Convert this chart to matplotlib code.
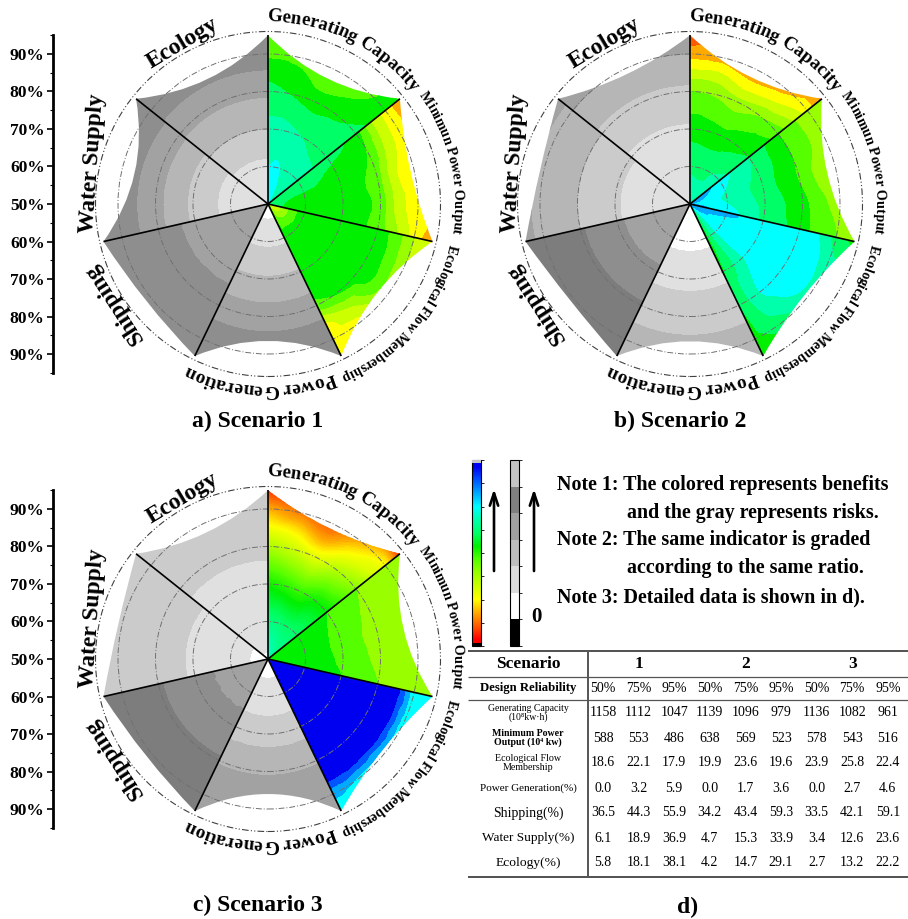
import numpy as np
import matplotlib
matplotlib.use('Agg')
import matplotlib.pyplot as plt
from matplotlib.path import Path
from matplotlib.patches import PathPatch, Rectangle, Circle
from matplotlib.tri import Triangulation, UniformTriRefiner, CubicTriInterpolator
from matplotlib.colors import LinearSegmentedColormap, ListedColormap, BoundaryNorm, Normalize
from matplotlib.font_manager import FontProperties, findfont, get_font
import matplotlib.colorbar as mcolorbar

plt.rcParams['font.family'] = ['Liberation Serif', 'DejaVu Serif']

# ------------------------------------------------------------------ data
indicators = ['Generating Capacity', 'Minimun Power Output', 'Ecological Flow Membership',
              'Power Generation', 'Shipping', 'Water Supply', 'Ecology']

# radial grid (design reliability, %) and angular position inside each sector (0..1)
rel_rows = [50.3, 60, 70, 80, 85, 90, 96]
u_cols = [0.0, 0.25, 0.5, 0.75, 1.0]
vertex_rel = 95
outer_ring_rel = 96
ring_rels = [60, 70, 80, 90]

# benefit class (0 = red ... 13 = blue), rows = rel_rows, cols = u_cols
s1_gen_cap = [[10.0, 10.0, 9.6, 9.2, 9.0],
              [9.5, 9.6, 9.2, 8.8, 8.7],
              [8.8, 8.8, 8.5, 8.3, 8.3],
              [7.8, 7.4, 7.0, 7.3, 7.8],
              [7.2, 6.8, 6.2, 6.6, 7.4],
              [6.3, 6.2, 5.8, 6.0, 7.0],
              [5.8, 6.0, 6.0, 6.0, 6.3]]
s1_min_power = [[8.5, 8.3, 8.0, 7.8, 7.5],
                [8.2, 7.8, 7.2, 7.1, 7.1],
                [7.8, 7.2, 7.0, 7.0, 7.0],
                [6.8, 6.3, 5.8, 6.0, 6.0],
                [4.5, 4.2, 3.6, 3.9, 4.6],
                [3.0, 3.0, 3.0, 3.0, 3.0],
                [1.5, 2.8, 2.8, 2.5, 1.2]]
s1_eco_flow = [[3.0, 3.0, 3.0, 4.0, 6.0],
               [7.0, 7.0, 7.0, 7.0, 7.0],
               [7.0, 7.0, 7.0, 7.0, 7.0],
               [7.0, 7.0, 7.0, 6.6, 6.0],
               [6.0, 6.2, 6.2, 4.5, 3.4],
               [4.5, 4.5, 4.5, 3.2, 3.0],
               [3.0, 3.0, 3.0, 3.0, 3.0]]

s2_gen_cap = [[9.0, 9.0, 9.0, 9.0, 9.5],
              [8.3, 8.2, 8.2, 8.5, 8.8],
              [7.0, 6.9, 6.8, 7.1, 7.5],
              [5.5, 5.3, 4.8, 5.4, 6.0],
              [3.8, 3.8, 3.0, 3.5, 4.5],
              [2.0, 2.0, 1.5, 2.0, 3.0],
              [0.8, 1.5, 1.5, 1.5, 0.8]]
s2_min_power = [[11.8, 11.2, 10.6, 10.5, 11.0],
                [10.0, 9.6, 9.3, 9.5, 10.0],
                [8.5, 8.2, 8.0, 8.2, 8.3],
                [6.5, 6.5, 6.4, 6.8, 7.0],
                [5.6, 5.6, 5.2, 5.8, 6.0],
                [5.0, 5.0, 4.6, 5.0, 5.5],
                [4.6, 4.6, 4.5, 4.6, 4.5]]
s2_eco_flow = [[11.5, 11.0, 10.5, 9.0, 7.0],
               [10.8, 10.2, 10.0, 9.0, 7.0],
               [10.0, 10.0, 10.0, 8.8, 7.3],
               [10.0, 10.0, 10.0, 9.5, 7.5],
               [9.5, 9.8, 9.8, 9.0, 7.3],
               [8.0, 9.0, 9.0, 8.0, 7.2],
               [7.0, 7.0, 7.0, 7.0, 7.0]]

s3_gen_cap = [[9.5, 9.3, 9.0, 8.8, 8.5],
              [8.3, 8.2, 8.0, 8.0, 8.0],
              [6.8, 6.5, 6.3, 6.8, 7.0],
              [4.6, 4.0, 3.5, 4.5, 5.2],
              [3.2, 2.7, 2.0, 3.2, 4.0],
              [2.0, 1.4, 1.0, 2.0, 3.0],
              [0.3, 0.5, 0.5, 0.5, 0.0]]
s3_min_power = [[7.2, 7.2, 7.2, 7.2, 7.2],
                [7.0, 7.0, 7.0, 7.0, 7.0],
                [6.5, 6.3, 6.2, 6.3, 6.5],
                [5.5, 5.2, 5.0, 5.2, 5.5],
                [5.1, 4.8, 4.7, 4.9, 5.1],
                [4.8, 4.5, 4.5, 4.6, 4.8],
                [4.6, 4.5, 4.5, 4.5, 4.6]]
s3_eco_flow = [[13.0, 13.0, 13.0, 13.0, 13.0],
               [13.0, 13.0, 13.0, 13.0, 13.0],
               [13.0, 13.0, 13.0, 13.0, 13.0],
               [13.0, 13.0, 13.0, 13.0, 13.0],
               [13.0, 13.0, 13.0, 13.0, 13.0],
               [10.0, 10.0, 10.0, 10.3, 10.8],
               [10.0, 10.0, 10.0, 10.0, 10.0]]

# risk class (0 = white ... 6 = dark gray) along rel_rows
s1_power_gen = [0.0, 1.3, 2.6, 4.0, 4.6, 5.0, 5.2]
s1_shipping = [4.0, 4.1, 4.3, 4.9, 5.2, 5.4, 5.5]
s1_water = [1.0, 1.2, 2.3, 3.8, 4.5, 5.0, 5.2]
s1_ecology = [1.0, 1.3, 2.5, 3.7, 4.4, 5.0, 5.3]

s2_power_gen = [0.0, 0.3, 1.2, 2.1, 2.5, 2.7, 2.8]
s2_shipping = [4.2, 4.3, 4.6, 5.6, 5.9, 6.0, 6.0]
s2_water = [0.8, 1.0, 1.6, 2.5, 2.9, 3.3, 3.8]
s2_ecology = [0.8, 1.0, 1.4, 2.3, 2.9, 3.5, 3.8]

s3_power_gen = [0.0, 1.0, 2.0, 3.4, 3.8, 4.1, 4.2]
s3_shipping = [4.3, 4.4, 4.7, 5.6, 5.9, 6.0, 6.0]
s3_water = [0.0, 1.0, 1.4, 1.9, 2.1, 2.2, 2.2]
s3_ecology = [0.4, 1.0, 1.2, 1.7, 2.0, 2.2, 2.3]

# reliability reached by the outer edge in the middle of each sector
edge_mid_s1 = [87, 89, 87.5, 86.5, 91.5, 86.5, 87]
edge_mid_s2 = [87.5, 87.5, 89, 86.6, 91, 91, 88.5]
edge_mid_s3 = [88.5, 87, 89, 86, 91.5, 91, 87.5]

axis_tick_pos = [40, 30, 20, 10, 0, -10, -20, -30, -40]
axis_tick_labels = ['90%', '80%', '70%', '60%', '50%', '60%', '70%', '80%', '90%']

notes = ['Note 1: The colored represents benefits', 'and the gray represents risks.',
         'Note 2: The same indicator is graded', 'according to the same ratio.',
         'Note 3: Detailed data is shown in d).']

table_scenarios = ['1', '2', '3']
table_reliab = ['50%', '75%', '95%'] * 3
table_row_labels = ['Generating Capacity\n(10\u2078kw\u00b7h)', 'Minimum Power\nOutput (10\u2074 kw)',
                    'Ecological Flow\nMembership', 'Power Generation(%)', 'Shipping(%)',
                    'Water Supply(%)', 'Ecology(%)']
table_values = [
    ['1158', '1112', '1047', '1139', '1096', '979', '1136', '1082', '961'],
    ['588', '553', '486', '638', '569', '523', '578', '543', '516'],
    ['18.6', '22.1', '17.9', '19.9', '23.6', '19.6', '23.9', '25.8', '22.4'],
    ['0.0', '3.2', '5.9', '0.0', '1.7', '3.6', '0.0', '2.7', '4.6'],
    ['36.5', '44.3', '55.9', '34.2', '43.4', '59.3', '33.5', '42.1', '59.1'],
    ['6.1', '18.9', '36.9', '4.7', '15.3', '33.9', '3.4', '12.6', '23.6'],
    ['5.8', '18.1', '38.1', '4.2', '14.7', '29.1', '2.7', '13.2', '22.2'],
]

# ------------------------------------------------------------------ styles
benefit_colors = ['#ff0000', '#ff5a00', '#ffaa00', '#ffff00', '#ccff00', '#99ff00', '#55ff00',
                  '#00f000', '#00ff66', '#00ffaa', '#00ffff', '#00aaff', '#0055ff', '#0000f0']
gray_colors = ['#ffffff', '#e0e0e0', '#cbcbcb', '#b6b6b6', '#a2a2a2', '#8e8e8e', '#7d7d7d']
gray_bar_colors = ['#000000', '#ffffff', '#dcdcdc', '#bebebe', '#a0a0a0', '#808080', '#c4c4c4']
nb = len(benefit_colors)
bene_cmap = LinearSegmentedColormap.from_list(
    'bene', [(0.0, benefit_colors[0])] + [((i + 0.5) / nb, c) for i, c in enumerate(benefit_colors)]
    + [(1.0, benefit_colors[-1])])

FW, FH = 908, 919
PX = 3.75  # pixels per percent of reliability
fig = plt.figure(figsize=(FW / 100, FH / 100), dpi=100)

SERIF = 'Liberation Serif'


def adv_units(ch, fp):
    font = get_font(findfont(fp))
    font.set_size(fp.get_size_in_points(), 72)
    g = font.load_char(ord(ch))
    pts = g.linearHoriAdvance / 65536.0
    return pts * 100 / 72 / PX


def arc_text(ax, text, start_deg, end_deg, radius):
    fp1 = FontProperties(family=SERIF, weight='bold', size=10)
    total = sum(adv_units(ch, fp1) for ch in text)
    arc_len = np.deg2rad(start_deg - end_deg) * radius
    fp = FontProperties(family=SERIF, weight='bold', size=10 * arc_len / total)
    ang = np.deg2rad(start_deg)
    for ch in text:
        w = adv_units(ch, fp)
        mid = ang - (w / 2) / radius
        if ch != ' ':
            ax.text(radius * np.cos(mid), radius * np.sin(mid), ch, fontproperties=fp,
                    rotation=np.rad2deg(mid) - 90, rotation_mode='anchor',
                    ha='center', va='baseline', zorder=5)
        ang -= w / radius


arc_specs = [  # (indicator index, start angle, end angle, baseline radius)
    (0, 90.3, 37.8, 48.7),
    (1, 35.8, -9.0, 49.6),
    (2, -12.5, -66.5, 49.3),
    (3, -68.8, -116.5, 48.2),
]
straight_specs = [  # (indicator index, x, y in units, rotation)
    (6, -22.9, 42.9, 31),
    (5, -46.7, 10.9, 86),
    (4, -41.1, -26.4, 123),
]


def panel(cx, cy, bene, gray, edge_mid, smooth_first=False):
    half = 235
    ax = fig.add_axes([(cx - half) / FW, 1 - (cy + half) / FH, 2 * half / FW, 2 * half / FH])
    lim = half / PX
    ax.set_xlim(-lim, lim)
    ax.set_ylim(-lim, lim)
    ax.axis('off')
    n = len(indicators)
    step = 360.0 / n
    rr = np.array(rel_rows) - 50
    uu = np.array(u_cols) * step
    P, R = np.meshgrid(uu, rr)
    base = Triangulation(P.ravel(), R.ravel())
    refiner = UniformTriRefiner(base)
    vr = vertex_rel - 50
    for k in range(n):
        t0 = 90 - k * step
        t1 = t0 - step
        if k < 3:
            Z = np.array(bene[k], float)
        else:
            Z = np.tile(np.array(gray[k - 3], float)[:, None], (1, len(u_cols)))
        zf = Z.ravel()
        interp = CubicTriInterpolator(base, zf, kind='geom')
        tri_r, z_r = refiner.refine_field(zf, triinterpolator=interp, subdiv=4)
        ang = np.deg2rad(t0 - tri_r.x)
        txy = Triangulation(tri_r.y * np.cos(ang), tri_r.y * np.sin(ang), tri_r.triangles)
        if k < 3:
            zc = np.clip(z_r, 0, nb - 1)
            if smooth_first and k == 0:
                cs = ax.tricontourf(txy, zc, levels=np.linspace(-0.5, nb - 0.5, 113),
                                    cmap=bene_cmap, norm=Normalize(-0.5, nb - 0.5), zorder=1)
            else:
                cs = ax.tricontourf(txy, zc, levels=np.arange(-0.5, nb, 1.0),
                                    colors=benefit_colors, zorder=1)
        else:
            zc = np.clip(z_r, 0, len(gray_colors) - 1)
            cs = ax.tricontourf(txy, zc, levels=np.arange(-0.5, len(gray_colors), 1.0),
                                colors=gray_colors, zorder=1)
        a0, a1, am = np.deg2rad([t0, t1, (t0 + t1) / 2])
        A = np.array([vr * np.cos(a0), vr * np.sin(a0)])
        B = np.array([vr * np.cos(a1), vr * np.sin(a1)])
        M = (edge_mid[k] - 50) * np.array([np.cos(am), np.sin(am)])
        C = 2 * M - (A + B) / 2
        path = Path([(0, 0), A, C, B, (0, 0), (0, 0)],
                    [Path.MOVETO, Path.LINETO, Path.CURVE3, Path.CURVE3, Path.LINETO, Path.CLOSEPOLY])
        cs.set_clip_path(PathPatch(path, transform=ax.transData))
    for rel in ring_rels:
        ax.add_patch(Circle((0, 0), rel - 50, fill=False, ec='#707070', lw=0.7,
                            ls=(0, (6, 2, 1, 2)), zorder=2))
    ax.add_patch(Circle((0, 0), outer_ring_rel - 50, fill=False, ec='#404040', lw=0.8,
                        ls=(0, (6, 2, 1, 2, 1, 2)), zorder=2))
    for k in range(n):
        a = np.deg2rad(90 - k * step)
        ax.plot([0, vr * np.cos(a)], [0, vr * np.sin(a)], color='black', lw=1.2, zorder=3,
                solid_capstyle='butt')
    for idx, st, en, rad in arc_specs:
        arc_text(ax, indicators[idx], st, en, rad)
    for idx, x, y, rot in straight_specs:
        ax.text(x, y, indicators[idx], rotation=rot, rotation_mode='anchor', ha='center',
                va='center', fontsize=17, fontweight='bold', family=SERIF, zorder=5)
    return ax


def left_axis(cy):
    lax = fig.add_axes([53 / FW, 1 - (cy + 169) / FH, 0.0005, 338 / FH])
    lax.set_ylim(-45, 45)
    for s in ['top', 'right', 'bottom']:
        lax.spines[s].set_visible(False)
    lax.spines['left'].set_linewidth(2)
    lax.patch.set_visible(False)
    lax.set_xticks([])
    lax.set_yticks(axis_tick_pos, axis_tick_labels)
    lax.set_yticks(np.arange(-45, 46, 5), minor=True)
    lax.tick_params(axis='y', which='major', length=4, width=1.2, pad=2, labelsize=12.5)
    lax.tick_params(axis='y', which='minor', length=2, width=0.8)
    for t in lax.get_yticklabels():
        t.set_fontweight('bold')
        t.set_family(SERIF)


panel(268, 204, [s1_gen_cap, s1_min_power, s1_eco_flow],
      [s1_power_gen, s1_shipping, s1_water, s1_ecology], edge_mid_s1)
panel(690, 204, [s2_gen_cap, s2_min_power, s2_eco_flow],
      [s2_power_gen, s2_shipping, s2_water, s2_ecology], edge_mid_s2)
panel(268, 659, [s3_gen_cap, s3_min_power, s3_eco_flow],
      [s3_power_gen, s3_shipping, s3_water, s3_ecology], edge_mid_s3, smooth_first=True)
left_axis(204)
left_axis(659)

# ------------------------------------------------------------------ colour bars
cax1 = fig.add_axes([472 / FW, 1 - 646 / FH, 9 / FW, 186 / FH])
cb1 = mcolorbar.ColorbarBase(cax1, cmap=bene_cmap, norm=Normalize(-0.5, nb - 0.5),
                             orientation='vertical')
cb1.set_ticks(np.linspace(-0.5, nb - 0.5, 9))
cax1.tick_params(length=2, width=0.6, labelright=False, right=True)
cb1.outline.set_linewidth(0.8)
cax1.add_patch(Rectangle((0, 0.985), 1, 0.015, transform=cax1.transAxes, fc='#c4c4c4', ec='none', zorder=5))
cax1.add_patch(Rectangle((0, 0.0), 1, 0.015, transform=cax1.transAxes, fc='#000000', ec='none', zorder=5))

cax2 = fig.add_axes([510 / FW, 1 - 646 / FH, 9 / FW, 186 / FH])
nbar = len(gray_bar_colors)
cb2 = mcolorbar.ColorbarBase(cax2, cmap=ListedColormap(gray_bar_colors),
                             norm=BoundaryNorm(np.arange(nbar + 1), nbar),
                             boundaries=np.arange(nbar + 1), orientation='vertical')
cb2.set_ticks(np.arange(nbar))
cax2.tick_params(length=2, width=0.6, labelright=False, right=True)
cb2.outline.set_linewidth(0.8)

# ------------------------------------------------------------------ overlay (notes, titles, table)
ov = fig.add_axes([0, 0, 1, 1], zorder=10)
ov.set_xlim(0, FW)
ov.set_ylim(FH, 0)
ov.axis('off')

for x in (494, 534):
    ov.annotate('', xy=(x, 489), xytext=(x, 571),
                arrowprops=dict(arrowstyle='->,head_length=0.9,head_width=0.3', lw=1.9,
                                color='black', shrinkA=0, shrinkB=0))
ov.text(536, 617, '0', fontsize=15, fontweight='bold', ha='center', va='center')

note_pos = [(557, 485), (627, 513), (557, 540), (627, 568), (557, 597)]
for (x, y), s in zip(note_pos, notes):
    ov.text(x, y, s, fontsize=14.4, fontweight='bold', ha='left', va='center')

for s, (x, y) in zip(['a) Scenario 1', 'b) Scenario 2', 'c) Scenario 3', 'd)'],
                     [(258, 421), (680, 421), (258, 905), (688, 907)]):
    ov.text(x, y, s, fontsize=17, fontweight='bold', ha='center', va='center')

# table
tl, tr = 468, 908
ov.hlines([651, 877], tl, tr, color='#333333', lw=1.2)
ov.hlines([677, 700], tl, tr, color='#555555', lw=0.9)
ov.vlines(588, 651, 877, color='#555555', lw=1.4)
col_x = [603 + i * 35.6 for i in range(9)]
ov.text(528, 664, 'Scenario', fontsize=12.5, fontweight='bold', ha='center', va='center')
for j, s in enumerate(table_scenarios):
    ov.text(col_x[3 * j + 1], 664, s, fontsize=12.5, fontweight='bold', ha='center', va='center')
ov.text(528, 688, 'Design Reliability', fontsize=9.2, fontweight='bold', ha='center', va='center')
for i, s in enumerate(table_reliab):
    ov.text(col_x[i], 688, s, fontsize=10, ha='center', va='center')
row_y = [713, 738, 763, 788, 813, 838, 863]
label_styles = [(7.0, 'normal'), (7.1, 'bold'), (7.2, 'normal'), (8.0, 'normal'),
                (9.9, 'normal'), (9.5, 'normal'), (9.7, 'normal')]
for y, lab, (fs, fw), vals in zip(row_y, table_row_labels, label_styles, table_values):
    ov.text(528, y, lab, fontsize=fs, fontweight=fw, ha='center', va='center', linespacing=1.05)
    for i, v in enumerate(vals):
        ov.text(col_x[i], y, v, fontsize=10, ha='center', va='center')

fig.savefig('out.png', dpi=100)
